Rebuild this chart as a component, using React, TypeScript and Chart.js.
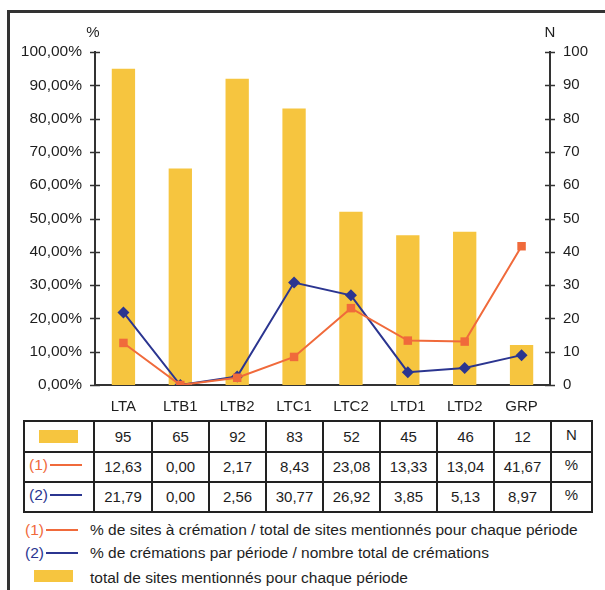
import React, { useEffect, useRef } from "react";
import { Chart, registerables } from "chart.js";

Chart.register(...registerables);

const categories = ["LTA", "LTB1", "LTB2", "LTC1", "LTC2", "LTD1", "LTD2", "GRP"];
const totalSites = [95, 65, 92, 83, 52, 45, 46, 12];
const pctSitesCremation = [12.63, 0.0, 2.17, 8.43, 23.08, 13.33, 13.04, 41.67];
const pctCremations = [21.79, 0.0, 2.56, 30.77, 26.92, 3.85, 5.13, 8.97];
const legendLabels = [
  "% de sites à crémation / total de sites mentionnés pour chaque période",
  "% de crémations par période / nombre total de crémations",
  "total de sites mentionnés pour chaque période",
];
const leftAxisTitle = "%";
const rightAxisTitle = "N";
const unitLabels = ["N", "%", "%"];

const YELLOW = "#F6C53F";
const ORANGE = "#F06A3B";
const NAVY = "#2B3590";
const AXIS = "#333333";
const TEXT = "#1e1e1e";
const FONT = "'Liberation Sans', Arial, sans-serif";

const fmt = (v: number) => v.toFixed(2).replace(".", ",");

const crossTicks = {
  id: "crossTicks",
  afterDraw(chart: any) {
    const ctx = chart.ctx;
    ["y", "y1"].forEach((id) => {
      const s = chart.scales[id];
      const x = id === "y" ? chart.chartArea.left : chart.chartArea.right;
      ctx.save();
      ctx.strokeStyle = AXIS;
      ctx.lineWidth = 1.5;
      s.ticks.forEach((_t: any, i: number) => {
        const y = Math.round(s.getPixelForTick(i)) + 0.5;
        ctx.beginPath();
        ctx.moveTo(x - 5, y);
        ctx.lineTo(x + 5, y);
        ctx.stroke();
      });
      ctx.restore();
    });
  },
};

function ChartCanvas() {
  const ref = useRef<HTMLCanvasElement | null>(null);
  useEffect(() => {
    if (!ref.current) return;
    const chart = new Chart(ref.current, {
      type: "bar",
      data: {
        labels: categories,
        datasets: [
          {
            type: "line",
            label: "(1)",
            data: pctSitesCremation,
            yAxisID: "y",
            borderColor: ORANGE,
            backgroundColor: ORANGE,
            borderWidth: 2,
            pointStyle: "rect",
            pointRadius: 6,
            pointBorderWidth: 0,
            tension: 0,
            order: 1,
          } as any,
          {
            type: "line",
            label: "(2)",
            data: pctCremations,
            yAxisID: "y",
            borderColor: NAVY,
            backgroundColor: NAVY,
            borderWidth: 2,
            pointStyle: "rectRot",
            pointRadius: 6,
            pointBorderWidth: 0,
            tension: 0,
            order: 2,
          } as any,
          {
            type: "bar",
            label: "N",
            data: totalSites,
            yAxisID: "y1",
            backgroundColor: YELLOW,
            categoryPercentage: 1,
            barPercentage: 0.41,
            order: 3,
          } as any,
        ],
      },
      options: {
        animation: false,
        responsive: false,
        devicePixelRatio: 1,
        layout: { padding: { top: 52, left: 0, right: 0, bottom: 0 } },
        plugins: { legend: { display: false }, tooltip: { enabled: false } },
        scales: {
          x: {
            grid: { display: false, drawTicks: false },
            border: { display: true, color: AXIS, width: 2 },
            ticks: { color: TEXT, font: { family: FONT, size: 15 }, padding: 13, maxRotation: 0 },
            afterFit: (s: any) => {
              s.height = 35;
            },
          },
          y: {
            position: "left",
            min: 0,
            max: 100,
            grid: { display: false, drawTicks: false },
            border: { display: true, color: AXIS, width: 2 },
            ticks: {
              stepSize: 10,
              color: TEXT,
              font: { family: FONT, size: 15.5 },
              padding: 13,
              callback: (v: any) => fmt(Number(v)) + "%",
            },
            afterFit: (s: any) => {
              s.width = 95;
            },
          },
          y1: {
            position: "right",
            min: 0,
            max: 100,
            grid: { display: false, drawTicks: false },
            border: { display: true, color: AXIS, width: 2 },
            ticks: {
              stepSize: 10,
              color: TEXT,
              font: { family: FONT, size: 15 },
              padding: 13,
            },
            afterFit: (s: any) => {
              s.width = 55;
            },
          },
        },
      } as any,
      plugins: [crossTicks],
    });
    return () => chart.destroy();
  }, []);
  return (
    <canvas
      ref={ref}
      width={605}
      height={420}
      style={{ position: "absolute", left: 0, top: 0, width: 605, height: 420 }}
    />
  );
}

const colEdges = [24, 94, 152, 209, 266, 323, 380, 437, 494, 551, 592];
const rowEdges = [421, 452, 482, 512];

function LineKey({ num, color, x, y }: { num: string; color: string; x: number; y: number }) {
  return (
    <>
      <span
        style={{
          position: "absolute",
          left: x,
          top: y - 10,
          height: 20,
          lineHeight: "20px",
          color,
          fontSize: 15.5,
          whiteSpace: "nowrap",
        }}
      >
        {num}
      </span>
      <div style={{ position: "absolute", left: x + 21, top: y - 1, width: 32, height: 2, background: color }} />
    </>
  );
}

export default function App() {
  const rows: string[][] = [
    totalSites.map((v) => String(v)),
    pctSitesCremation.map(fmt),
    pctCremations.map(fmt),
  ];
  const cells: React.ReactNode[] = [];
  rows.forEach((r, ri) => {
    r.forEach((txt, ci) => {
      cells.push(
        <div
          key={`c${ri}-${ci}`}
          style={{
            position: "absolute",
            left: colEdges[ci + 1],
            top: rowEdges[ri],
            width: colEdges[ci + 2] - colEdges[ci + 1],
            height: rowEdges[ri + 1] - rowEdges[ri],
            lineHeight: `${rowEdges[ri + 1] - rowEdges[ri]}px`,
            textAlign: "center",
            fontSize: 15,
            color: TEXT,
          }}
        >
          {txt}
        </div>
      );
    });
    cells.push(
      <div
        key={`u${ri}`}
        style={{
          position: "absolute",
          left: colEdges[9],
          top: rowEdges[ri],
          width: colEdges[10] - colEdges[9],
          height: rowEdges[ri + 1] - rowEdges[ri],
          lineHeight: `${rowEdges[ri + 1] - rowEdges[ri] - 4}px`,
          textAlign: "center",
          fontSize: 15,
          color: TEXT,
        }}
      >
        {unitLabels[ri]}
      </div>
    );
  });
  const lines: React.ReactNode[] = [];
  colEdges.forEach((x, i) =>
    lines.push(
      <div
        key={`v${i}`}
        style={{
          position: "absolute",
          left: x - 1,
          top: rowEdges[0] - 1,
          width: 2,
          height: rowEdges[3] - rowEdges[0] + 2,
          background: "#222",
        }}
      />
    )
  );
  rowEdges.forEach((y, i) =>
    lines.push(
      <div
        key={`h${i}`}
        style={{
          position: "absolute",
          left: colEdges[0] - 1,
          top: y - 1,
          width: colEdges[10] - colEdges[0] + 2,
          height: 2,
          background: "#222",
        }}
      />
    )
  );

  return (
    <div
      style={{
        position: "absolute",
        left: 0,
        top: 0,
        width: 605,
        height: 590,
        background: "#fff",
        overflow: "hidden",
        fontFamily: FONT,
      }}
    >
      <div style={{ position: "absolute", left: 7, top: 10, width: 598, height: 3, background: AXIS }} />
      <div style={{ position: "absolute", left: 7, top: 10, width: 3, height: 580, background: AXIS }} />
      <ChartCanvas />
      <span
        style={{ position: "absolute", left: 83, top: 23, width: 20, textAlign: "center", fontSize: 15, color: TEXT }}
      >
        {leftAxisTitle}
      </span>
      <span
        style={{ position: "absolute", left: 540, top: 23, width: 20, textAlign: "center", fontSize: 15, color: TEXT }}
      >
        {rightAxisTitle}
      </span>
      {cells}
      {lines}
      <div style={{ position: "absolute", left: 39, top: 430, width: 39, height: 13, background: YELLOW }} />
      <LineKey num="(1)" color={ORANGE} x={29} y={465} />
      <LineKey num="(2)" color={NAVY} x={29} y={495} />
      <LineKey num="(1)" color={ORANGE} x={25} y={530} />
      <LineKey num="(2)" color={NAVY} x={25} y={553} />
      <div style={{ position: "absolute", left: 34, top: 570, width: 39, height: 12, background: YELLOW }} />
      {legendLabels.map((t, i) => (
        <span
          key={`l${i}`}
          style={{
            position: "absolute",
            left: 90,
            top: [530, 553, 578][i] - 10,
            height: 20,
            lineHeight: "20px",
            fontSize: 15.5,
            color: TEXT,
            whiteSpace: "nowrap",
          }}
        >
          {t}
        </span>
      ))}
    </div>
  );
}
